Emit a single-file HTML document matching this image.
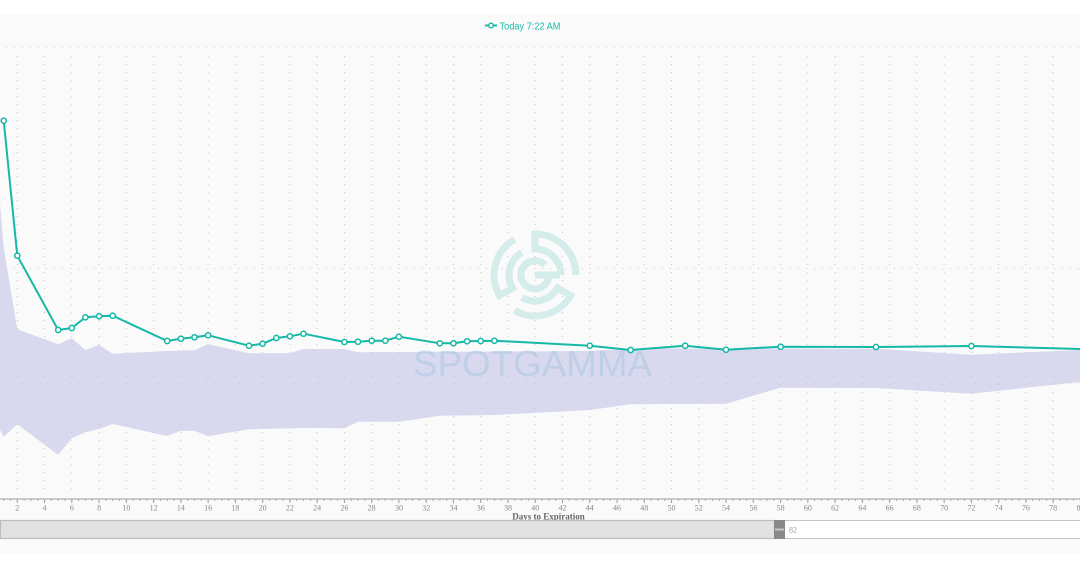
<!DOCTYPE html>
<html><head><meta charset="utf-8"><style>
html,body{margin:0;padding:0;background:#fff;}
svg{display:block;}
</style></head><body>
<svg width="1080" height="571" viewBox="0 0 1080 571" xmlns="http://www.w3.org/2000/svg">
<defs>
<pattern id="vg" patternUnits="userSpaceOnUse" x="16.8" y="48" width="27.26" height="8">
<rect x="0" y="0" width="1" height="1" fill="#c4c4c4"/>
</pattern>
<pattern id="hg" patternUnits="userSpaceOnUse" x="6" y="0" width="8" height="10">
<rect x="0" y="0" width="1" height="10" fill="#c4c4c4"/>
</pattern>
<pattern id="mj" patternUnits="userSpaceOnUse" x="16.8" y="499" width="27.26" height="5">
<rect x="0" y="0" width="1" height="4" fill="#999"/>
</pattern>
<pattern id="mn" patternUnits="userSpaceOnUse" x="16.8" y="499" width="6.815" height="3">
<rect x="0" y="0" width="1" height="2" fill="#aaa"/>
</pattern>
</defs>
<rect x="0" y="0" width="1080" height="571" fill="#ffffff"/>
<rect x="0" y="15" width="1080" height="539" fill="#fafafa"/>

<polygon fill="#d8d8ee" points="0,203 3.7,248 17.3,329.3 58.2,344.3 71.8,338.3 85.4,350 99.1,345 112.7,353.7 167.2,351 180.9,350.5 194.5,350.3 208.1,344.3 249,353.3 289.9,353.3 303.5,349 344.4,349 358,352.3 590,351 630.6,348.5 876,348.7 971.4,354.7 1080,350 1080,382 971.4,393.7 876,388 780.6,387.7 726,403.7 630.6,404.3 589.8,410 494.4,415 439.8,415.7 398.9,421.7 358,421.7 344.4,428.3 303.5,428 249,429.3 208.1,436.3 194.5,430.7 180.9,430.7 167.2,436 112.7,424 99.1,429 85.4,432.3 71.8,438.3 58.2,455 17.3,424.3 3.7,436.7 0,430"/>

<rect x="0" y="52" width="1080" height="444" fill="url(#vg)"/>
<rect x="0" y="46.5" width="1080" height="1" fill="url(#hg)"/>
<rect x="0" y="268.2" width="1080" height="1" fill="url(#hg)"/>
<rect x="0" y="382.5" width="1080" height="1" fill="url(#hg)"/>

<g fill="none" stroke="#d3ecea" stroke-width="7" opacity="0.95">
<g>
<path d="M535,234 A41,41 0 0 1 576,275"/>
<path d="M535,249 A26,26 0 0 1 561,275"/>
<path d="M535,230.5 L535,252.5"/>
</g>
<g transform="rotate(120 535 275)">
<path d="M535,234 A41,41 0 0 1 576,275"/>
<path d="M535,249 A26,26 0 0 1 561,275"/>
<path d="M535,230.5 L535,252.5"/>
</g>
<g transform="rotate(240 535 275)">
<path d="M535,234 A41,41 0 0 1 576,275"/>
<path d="M535,249 A26,26 0 0 1 561,275"/>
<path d="M535,230.5 L535,252.5"/>
</g>
<path d="M549,275 A14,14 0 1 1 545,265"/>
<path d="M535,275 L560,275"/>
</g>
<text x="413" y="376" font-family="Liberation Sans, sans-serif" font-size="36" fill="#a9c8e3" opacity="0.55" textLength="239" lengthAdjust="spacingAndGlyphs">SPOTGAMMA</text>

<polyline fill="none" stroke="#14b8a6" stroke-width="2" stroke-linejoin="round" points="3.7,120.7 17.3,255.7 58.2,330 71.8,328 85.4,317.3 99.1,316.3 112.7,315.7 167.2,341 180.9,338.7 194.5,337.3 208.1,335.3 249,345.7 262.6,343.7 276.3,338 289.9,336.3 303.5,333.7 344.4,342 358,341.7 371.7,340.7 385.3,340.7 398.9,336.7 439.8,343.3 453.5,343.3 467.1,341.3 480.7,341 494.4,340.7 589.8,345.7 630.6,350 685.2,345.7 726,349.7 780.6,346.7 876,347 971.4,346 1107.7,349.8"/>
<g fill="#ffffff" stroke="#14b8a6" stroke-width="1.5">
<circle cx="3.7" cy="120.7" r="2.6"/><circle cx="17.3" cy="255.7" r="2.6"/><circle cx="58.2" cy="330" r="2.6"/><circle cx="71.8" cy="328" r="2.6"/><circle cx="85.4" cy="317.3" r="2.6"/><circle cx="99.1" cy="316.3" r="2.6"/><circle cx="112.7" cy="315.7" r="2.6"/><circle cx="167.2" cy="341" r="2.6"/><circle cx="180.9" cy="338.7" r="2.6"/><circle cx="194.5" cy="337.3" r="2.6"/><circle cx="208.1" cy="335.3" r="2.6"/><circle cx="249" cy="345.7" r="2.6"/><circle cx="262.6" cy="343.7" r="2.6"/><circle cx="276.3" cy="338" r="2.6"/><circle cx="289.9" cy="336.3" r="2.6"/><circle cx="303.5" cy="333.7" r="2.6"/><circle cx="344.4" cy="342" r="2.6"/><circle cx="358" cy="341.7" r="2.6"/><circle cx="371.7" cy="340.7" r="2.6"/><circle cx="385.3" cy="340.7" r="2.6"/><circle cx="398.9" cy="336.7" r="2.6"/><circle cx="439.8" cy="343.3" r="2.6"/><circle cx="453.5" cy="343.3" r="2.6"/><circle cx="467.1" cy="341.3" r="2.6"/><circle cx="480.7" cy="341" r="2.6"/><circle cx="494.4" cy="340.7" r="2.6"/><circle cx="589.8" cy="345.7" r="2.6"/><circle cx="630.6" cy="350" r="2.6"/><circle cx="685.2" cy="345.7" r="2.6"/><circle cx="726" cy="349.7" r="2.6"/><circle cx="780.6" cy="346.7" r="2.6"/><circle cx="876" cy="347" r="2.6"/><circle cx="971.4" cy="346" r="2.6"/>
</g>

<line x1="485" y1="25.5" x2="497" y2="25.5" stroke="#14b8a6" stroke-width="2"/>
<circle cx="491" cy="25.5" r="2.3" fill="#fff" stroke="#14b8a6" stroke-width="1.4"/>
<text x="499.5" y="29.3" font-family="Liberation Sans, sans-serif" font-size="10.5" fill="#1cbca8" textLength="61" lengthAdjust="spacingAndGlyphs">Today 7:22 AM</text>

<rect x="0" y="498.5" width="1080" height="1" fill="#9a9a9a"/>
<rect x="0" y="499" width="1080" height="4" fill="url(#mj)"/>
<rect x="0" y="499" width="1080" height="2" fill="url(#mn)"/>
<g font-family="Liberation Serif, serif" font-size="8" fill="#8a8a8a" text-anchor="middle">
<text x="17.3" y="510.5">2</text>
<text x="44.56" y="510.5">4</text>
<text x="71.82" y="510.5">6</text>
<text x="99.08" y="510.5">8</text>
<text x="126.34" y="510.5">10</text>
<text x="153.6" y="510.5">12</text>
<text x="180.86" y="510.5">14</text>
<text x="208.12" y="510.5">16</text>
<text x="235.38" y="510.5">18</text>
<text x="262.64" y="510.5">20</text>
<text x="289.9" y="510.5">22</text>
<text x="317.16" y="510.5">24</text>
<text x="344.42" y="510.5">26</text>
<text x="371.68" y="510.5">28</text>
<text x="398.94" y="510.5">30</text>
<text x="426.2" y="510.5">32</text>
<text x="453.46" y="510.5">34</text>
<text x="480.72" y="510.5">36</text>
<text x="507.98" y="510.5">38</text>
<text x="535.24" y="510.5">40</text>
<text x="562.5" y="510.5">42</text>
<text x="589.76" y="510.5">44</text>
<text x="617.02" y="510.5">46</text>
<text x="644.28" y="510.5">48</text>
<text x="671.54" y="510.5">50</text>
<text x="698.8" y="510.5">52</text>
<text x="726.06" y="510.5">54</text>
<text x="753.32" y="510.5">56</text>
<text x="780.58" y="510.5">58</text>
<text x="807.84" y="510.5">60</text>
<text x="835.1" y="510.5">62</text>
<text x="862.36" y="510.5">64</text>
<text x="889.62" y="510.5">66</text>
<text x="916.88" y="510.5">68</text>
<text x="944.14" y="510.5">70</text>
<text x="971.4" y="510.5">72</text>
<text x="998.66" y="510.5">74</text>
<text x="1025.92" y="510.5">76</text>
<text x="1053.18" y="510.5">78</text>
<text x="1080.44" y="510.5">80</text>
</g>
<text x="548.5" y="519.5" font-family="Liberation Serif, serif" font-size="9" font-weight="bold" fill="#666" text-anchor="middle">Days to Expiration</text>

<rect x="0.5" y="520.5" width="1080" height="18" fill="#ffffff" stroke="#c4c4c4" stroke-width="1"/>
<rect x="0.5" y="520.5" width="774" height="18" fill="#e1e1e1" stroke="#bdbdbd" stroke-width="1.2"/>
<rect x="774" y="520" width="11" height="19" fill="#898989"/>
<rect x="775" y="528.5" width="9" height="2" fill="#c8c8c8"/>
<text x="789" y="532.5" font-family="Liberation Serif, serif" font-size="8" fill="#999">82</text>
</svg>
</body></html>
